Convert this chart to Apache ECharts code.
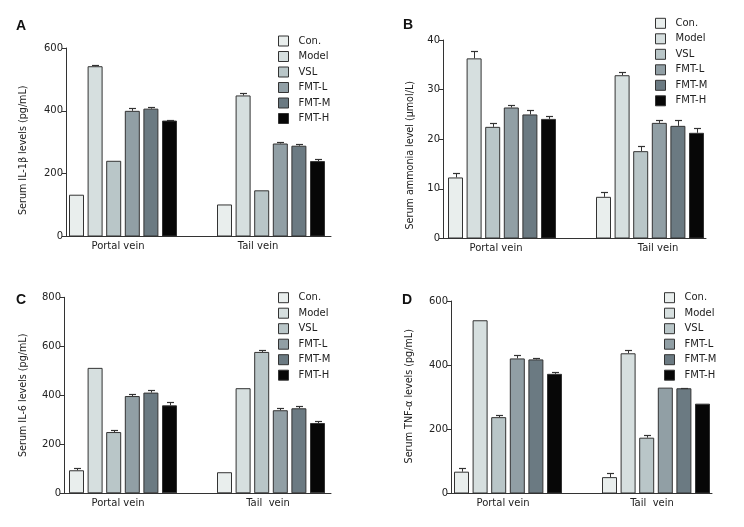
<!DOCTYPE html>
<html><head><meta charset="utf-8">
<script src="https://cdn.jsdelivr.net/npm/echarts@6/dist/echarts.min.js"></script>
<style>html,body{margin:0;padding:0;background:#fff}#c{width:744px;height:527px}</style>
</head><body><div id="c"></div>
<script>
// ---------- data ----------
const groups = ['Con.', 'Model', 'VSL', 'FMT-L', 'FMT-M', 'FMT-H'];
const categoriesAB = ['Portal vein', 'Tail vein'];
const categoriesCD = ['Portal vein', 'Tail  vein'];

// A: Serum IL-1beta (pg/mL)
const aPortal = [133, 542, 241, 400, 407, 369];
const aPortalErr = [0, 5, 0, 9, 6, 3];
const aTail = [102, 449, 147, 296, 289, 240];
const aTailErr = [0, 8, 0, 4, 7, 6];
const aTicks = [0, 200, 400, 600];

// B: Serum ammonia (umol/L)
const bPortal = [12.3, 36.3, 22.5, 26.4, 25.0, 24.1];
const bPortalErr = [0.8, 1.4, 0.7, 0.5, 0.8, 0.5];
const bTail = [8.4, 32.9, 17.6, 23.3, 22.7, 21.3];
const bTailErr = [0.9, 0.7, 1.0, 0.5, 1.1, 0.9];
const bTicks = [0, 10, 20, 30, 40];

// C: Serum IL-6 (pg/mL)
const cPortal = [94, 512, 250, 397, 411, 359];
const cPortalErr = [11, 0, 9, 10, 9, 12];
const cTail = [86, 429, 577, 339, 347, 287];
const cTailErr = [0, 0, 8, 11, 11, 8];
const cTicks = [0, 200, 400, 600, 800];

// D: Serum TNF-alpha (pg/mL)
const dPortal = [68, 540, 238, 421, 418, 373];
const dPortalErr = [11, 0, 6, 10, 5, 5];
const dTail = [51, 437, 174, 330, 328, 280];
const dTailErr = [12, 10, 7, 0, 2, 0];
const dTicks = [0, 200, 400, 600];

// ---------- styles / layout ----------
const groupColors = ['#e9eeed', '#d6dfdf', '#b9c6c8', '#919fa5', '#6b7a82', '#070707'];
const FONT = 'DejaVu Sans';
const TXT = '#222';
const AX = '#333';
const BAR_W = 15, BAR_GAP = 0.24;
const STEP = BAR_W * (1 + BAR_GAP);

const panels = [
  {letter:'A', letterPos:[16,19], cats:categoriesAB, portal:aPortal, portalErr:aPortalErr, tail:aTail, tailErr:aTailErr, ticks:aTicks,
   yName:'Serum IL-1\u03b2 levels (pg/mL)', left:49, top:48, bottom:236.5, yAxisX:66, lineRight:331, nameGap:38, nameShift:8,
   labelShift:[-5,-13], legend:[278,35]},
  {letter:'B', letterPos:[403,18], cats:categoriesAB, portal:bPortal, portalErr:bPortalErr, tail:bTail, tailErr:bTailErr, ticks:bTicks,
   yName:'Serum ammonia level (\u03bcmol/L)', left:428, top:40, bottom:238.5, yAxisX:443, lineRight:706, nameGap:28, nameShift:16,
   labelShift:[-6,8], legend:[655,17.3]},
  {letter:'C', letterPos:[16,293], cats:categoriesCD, portal:cPortal, portalErr:cPortalErr, tail:cTail, tailErr:cTailErr, ticks:cTicks,
   yName:'Serum IL-6 levels (pg/mL)', left:49, top:297.3, bottom:493.3, yAxisX:64, lineRight:331, nameGap:36, nameShift:0,
   labelShift:[-5,-3], legend:[278,291.7]},
  {letter:'D', letterPos:[402,293], cats:categoriesCD, portal:dPortal, portalErr:dPortalErr, tail:dTail, tailErr:dTailErr, ticks:dTicks,
   yName:'Serum TNF-\u03b1 levels (pg/mL)', left:434, top:301, bottom:493.5, yAxisX:451, lineRight:712, nameGap:37, nameShift:-1,
   labelShift:[-5,-4], legend:[664,291.7]}
];

function padFor(shift) {
  // center-aligned text: extra padding on one side shifts text by half
  return shift < 0 ? [0, -2 * shift, 0, 0] : [0, 0, 0, 2 * shift];
}

const option = {
  backgroundColor: '#fff',
  animation: false,
  title: [], legend: [], grid: [], xAxis: [], yAxis: [], series: []
};

panels.forEach((p, pi) => {
  const gData = pi * 2, gLine = pi * 2 + 1;
  const h = p.bottom - p.top;
  option.title.push({
    text: p.letter, left: p.letterPos[0], top: p.letterPos[1], padding: 0,
    textStyle: {fontFamily: 'Liberation Sans', fontSize: 14, fontWeight: 'bold', color: '#111'}
  });
  option.grid.push({left: p.left, top: p.top, width: 296, height: h, containLabel: false});
  option.grid.push({left: p.yAxisX, top: p.top, width: p.lineRight - p.yAxisX, height: h, containLabel: false});

  const rich = {};
  p.cats.forEach((c, i) => {
    rich['c' + i] = {fontFamily: FONT, fontSize: 10, color: TXT, padding: padFor(p.labelShift[i])};
  });
  option.xAxis.push({
    type: 'category', gridIndex: gData, data: p.cats,
    axisLine: {show: false}, axisTick: {show: false}, splitLine: {show: false},
    axisLabel: {margin: 5, formatter: (v, i) => '{c' + i + '|' + v + '}', rich: rich,
                fontFamily: FONT, fontSize: 10, color: TXT}
  });
  option.xAxis.push({
    type: 'value', gridIndex: gLine, min: 0, max: 1,
    axisLine: {show: true, lineStyle: {color: AX, width: 1}},
    axisTick: {show: false}, axisLabel: {show: false}, splitLine: {show: false}
  });
  option.yAxis.push({
    type: 'value', gridIndex: gData,
    min: p.ticks[0], max: p.ticks[p.ticks.length - 1], interval: p.ticks[1] - p.ticks[0],
    offset: -(p.yAxisX - p.left),
    name: p.yName, nameLocation: 'middle', nameGap: p.nameGap,
    nameTextStyle: {fontFamily: FONT, fontSize: 9.6, color: TXT, padding: padFor(-p.nameShift)},
    axisLine: {show: true, lineStyle: {color: AX, width: 1}},
    axisTick: {show: true, length: 4, lineStyle: {color: AX}},
    axisLabel: {margin: 3, fontFamily: FONT, fontSize: 10, color: TXT},
    splitLine: {show: false}
  });
  option.yAxis.push({type: 'value', gridIndex: gLine, show: false, min: 0, max: 1});

  option.legend.push({
    left: p.legend[0], top: p.legend[1], orient: 'vertical', selectedMode: false,
    itemWidth: 10, itemHeight: 10, itemGap: 3.5, icon: 'rect', padding: 0,
    data: groups,
    itemStyle: {borderColor: AX, borderWidth: 1},
    textStyle: {fontFamily: FONT, fontSize: 10, color: TXT, lineHeight: 12, padding: [0, 0, 0, 5]}
  });

  groups.forEach((g, gi) => {
    option.series.push({
      type: 'bar', name: g, xAxisIndex: gData, yAxisIndex: gData,
      barWidth: BAR_W, barGap: (BAR_GAP * 100) + '%',
      itemStyle: {color: groupColors[gi], borderColor: AX, borderWidth: 1},
      data: [p.portal[gi], p.tail[gi]]
    });
  });

  const errData = [];
  groups.forEach((g, gi) => {
    errData.push([0, gi, p.portal[gi], p.portalErr[gi]]);
    errData.push([1, gi, p.tail[gi], p.tailErr[gi]]);
  });
  option.series.push({
    type: 'custom', xAxisIndex: gData, yAxisIndex: gData, z: 5,
    encode: {x: 0, y: 2},
    data: errData,
    renderItem: function (params, api) {
      const cat = api.value(0), gi = api.value(1), v = api.value(2), e = api.value(3);
      if (!e) return null;
      const base = api.coord([cat, v]);
      const top = api.coord([cat, v + e]);
      const x = Math.round(base[0] + (gi - 2.5) * STEP) + 0.5;
      const yt = Math.round(top[1]) + 0.5;
      return {type: 'group', children: [
        {type: 'line', shape: {x1: x, y1: base[1], x2: x, y2: yt}, style: {stroke: AX, lineWidth: 1}},
        {type: 'line', shape: {x1: x - 3.5, y1: yt, x2: x + 3.5, y2: yt}, style: {stroke: AX, lineWidth: 1.2}}
      ]};
    }
  });
});

const chart = echarts.init(document.getElementById('c'), null, {renderer: 'canvas'});
chart.setOption(option);
</script>
</body></html>
